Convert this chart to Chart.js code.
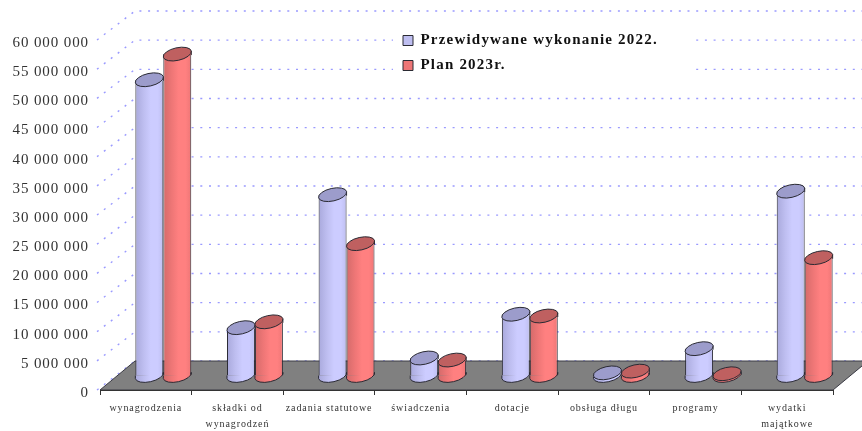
<!DOCTYPE html>
<html lang="pl">
<head>
<meta charset="utf-8">
<style>html,body{margin:0;padding:0;background:#fff}canvas{display:block;filter:blur(0.35px)}</style>
<script src="https://cdn.jsdelivr.net/npm/chart.js@4/dist/chart.umd.min.js"></script>
</head>
<body>
<canvas id="c" width="862" height="431"></canvas>
<script>
const categories = ['wynagrodzenia', ['składki od','wynagrodzeń'], 'zadania statutowe', 'świadczenia', 'dotacje', 'obsługa długu', 'programy', ['wydatki','majątkowe']];
const seriesNames = ['Przewidywane wykonanie 2022.', 'Plan 2023r.'];
const forecast2022 = [50700000, 8200000, 31000000, 3000000, 10500000, 450000, 4600000, 31600000];
const plan2023 = [55100000, 9200000, 22600000, 2650000, 10200000, 750000, 300000, 20200000];
const bodyColors = ['#CCCCFF', '#FF8080'];
const shadeColors = ['#A9A9DC', '#D46A6A'];
const midColors = ['#BEBEF0', '#EE7676'];
const capColors = ['#9C9CCB', '#BF6060'];
const lineColor = '#2a2a33';
const DEPTH_X = 35, DEPTH_Y = 29;
const TILT = 0.22, CAP_MINOR = 6.3;

function bodyFill(ctx) {
  const i = ctx.datasetIndex;
  if (ctx.dataIndex === undefined) return bodyColors[i];
  const chart = ctx.chart, x = chart.scales.x;
  if (!x) return bodyColors[i];
  const cw = x.getPixelForValue(1) - x.getPixelForValue(0);
  const w = cw * 0.305;
  const c = x.getPixelForValue(ctx.dataIndex);
  const left = c - w + i * w;
  if (!Number.isFinite(left) || !Number.isFinite(w)) return bodyColors[i];
  const g = chart.ctx.createLinearGradient(left, 0, left + w, 0);
  g.addColorStop(0, shadeColors[i]);
  g.addColorStop(0.3, midColors[i]);
  g.addColorStop(0.55, bodyColors[i]);
  g.addColorStop(0.8, bodyColors[i]);
  g.addColorStop(1, midColors[i]);
  return g;
}

function drawCaps(ctx, meta, idx) {
  meta.data.forEach(el => {
    const w = el.width, l = el.x - w / 2, r = el.x + w / 2;
    const a = (w / 2) / Math.cos(TILT);
    const rise = (w / 2) * Math.tan(TILT);
    const fill = el.options.backgroundColor;
    ctx.lineWidth = 1;
    ctx.strokeStyle = lineColor;
    // rounded foot
    ctx.beginPath();
    ctx.moveTo(l, el.base);
    ctx.lineTo(l, el.base + rise);
    ctx.ellipse(el.x, el.base, a, CAP_MINOR, -TILT, Math.PI, 0, true);
    ctx.lineTo(r, el.base - 1);
    ctx.fillStyle = fill;
    ctx.fill();
    ctx.stroke();
    // shoulder joining body and cap
    ctx.beginPath();
    ctx.moveTo(l, el.y + rise);
    ctx.lineTo(r, el.y - rise);
    ctx.lineTo(r, el.y + 1);
    ctx.lineTo(l, el.y + rise + 1);
    ctx.closePath();
    ctx.fillStyle = fill;
    ctx.fill();
    ctx.beginPath();
    ctx.moveTo(r, el.y - rise);
    ctx.lineTo(r, el.y + 1);
    ctx.stroke();
    // top disc
    ctx.beginPath();
    ctx.ellipse(el.x, el.y, a, CAP_MINOR, -TILT, 0, Math.PI * 2);
    ctx.fillStyle = capColors[idx];
    ctx.fill();
    ctx.stroke();
  });
}

const scene = {
  id: 'scene',
  afterLayout(chart) {
    const lg = chart.legend;
    lg.left = 393; lg.right = 690; lg.top = 23; lg.bottom = 120;
    if (!lg._spaced) {
      const d = lg.draw;
      lg.draw = function () {
        chart.ctx.letterSpacing = '1.2px';
        d.call(this);
        chart.ctx.letterSpacing = '0.9px';
      };
      const yScale = chart.scales.y, dl = yScale.drawLabels;
      yScale.drawLabels = function (area) {
        chart.ctx.save();
        chart.ctx.translate(0, 3);
        dl.call(this, area);
        chart.ctx.restore();
      };
      lg._spaced = true;
    }
  },
  beforeDraw(chart) {
    const { ctx, scales: { x, y } } = chart;
    ctx.letterSpacing = '0.9px';
    const wallLeft = x.left + DEPTH_X;
    ctx.save();
    ctx.strokeStyle = '#9a9aff';
    ctx.lineWidth = 1.4;
    ctx.setLineDash([2, 6.7]);
    y.ticks.forEach(t => {
      const py = y.getPixelForValue(t.value);
      ctx.beginPath();
      ctx.moveTo(x.left - 3, py);
      ctx.lineTo(wallLeft, py - DEPTH_Y);
      ctx.lineTo(chart.width, py - DEPTH_Y);
      ctx.stroke();
    });
    ctx.setLineDash([]);
    const lg = chart.legend;
    ctx.fillStyle = '#fff';
    ctx.fillRect(lg.left, lg.top, lg.right - lg.left, 59);
    const y0 = y.getPixelForValue(0);
    ctx.beginPath();
    ctx.moveTo(x.left, y0);
    ctx.lineTo(x.right, y0);
    ctx.lineTo(x.right + DEPTH_X, y0 - DEPTH_Y);
    ctx.lineTo(wallLeft, y0 - DEPTH_Y);
    ctx.closePath();
    ctx.fillStyle = '#808080';
    ctx.fill();
    ctx.strokeStyle = '#3a3a44';
    ctx.lineWidth = 1;
    ctx.stroke();
    ctx.restore();
  },
  beforeDatasetDraw() { return false; },
  afterDatasetsDraw(chart) {
    const ctx = chart.ctx;
    [0, 1].forEach(i => {
      const meta = chart.getDatasetMeta(i);
      ctx.save();
      ctx.translate(DEPTH_X / 2, -DEPTH_Y / 2);
      meta.controller.draw();
      drawCaps(ctx, meta, i);
      ctx.restore();
    });
  }
};

const baseLabels = Chart.defaults.plugins.legend.labels.generateLabels;
const barStyle = {
  categoryPercentage: 0.61,
  barPercentage: 1,
  backgroundColor: bodyFill,
  borderColor: lineColor,
  borderWidth: { left: 1, right: 1, top: 0, bottom: 0 },
  borderSkipped: false
};

new Chart(document.getElementById('c'), {
  type: 'bar',
  data: {
    labels: categories,
    datasets: [
      Object.assign({ label: seriesNames[0], data: forecast2022 }, barStyle),
      Object.assign({ label: seriesNames[1], data: plan2023 }, barStyle)
    ]
  },
  options: {
    responsive: false,
    animation: false,
    events: [],
    layout: { padding: { top: 40, right: 29, left: 0, bottom: 0 } },
    plugins: {
      colors: { enabled: false },
      tooltip: { enabled: false },
      legend: {
        position: 'chartArea',
        align: 'start',
        labels: {
          boxWidth: 10,
          boxHeight: 10,
          padding: 10,
          color: '#111',
          font: { family: '"Liberation Serif"', size: 15, weight: 'bold' },
          generateLabels(chart) {
            return baseLabels(chart).map(l => Object.assign(l, { lineWidth: 1 }));
          }
        }
      }
    },
    scales: {
      x: {
        afterFit(s) { s.height = 41; },
        grid: { display: true, drawOnChartArea: false, drawTicks: true, tickLength: 5, color: '#333' },
        border: { display: true, color: '#333' },
        ticks: {
          color: '#333', padding: 5, maxRotation: 0, autoSkip: false,
          font: { family: '"Liberation Serif"', size: 10, lineHeight: 1.6 }
        }
      },
      y: {
        min: 0, max: 60000000,
        afterFit(s) { s.width = 100; },
        grid: { display: false, drawTicks: false },
        border: { display: false },
        ticks: {
          stepSize: 5000000, padding: 11, color: '#333',
          font: { family: '"Liberation Serif"', size: 15 },
          callback: v => String(v).replace(/\B(?=(\d{3})+$)/g, ' ')
        }
      }
    }
  },
  plugins: [scene]
});
</script>
</body>
</html>
